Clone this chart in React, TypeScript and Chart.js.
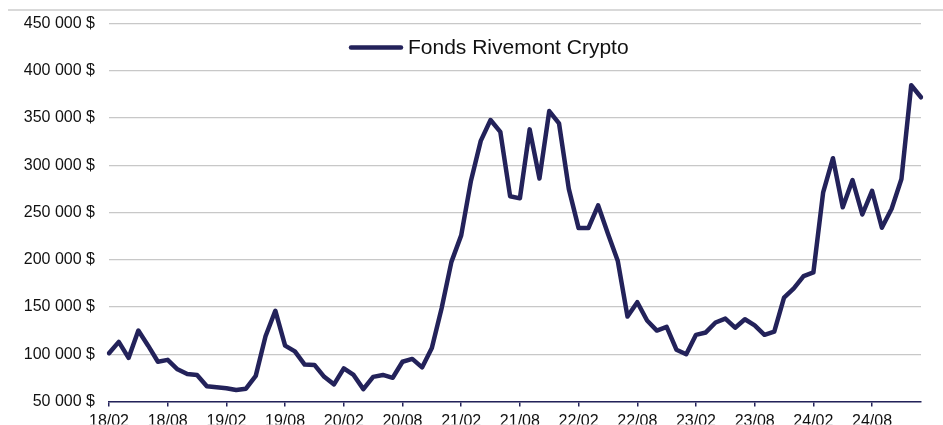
import { useEffect, useRef } from "react";
import { Chart, registerables } from "chart.js";

Chart.register(...registerables);

const months = [
  "18/02", "18/03", "18/04", "18/05", "18/06", "18/07", "18/08", "18/09", "18/10", "18/11", "18/12", "19/01",
  "19/02", "19/03", "19/04", "19/05", "19/06", "19/07", "19/08", "19/09", "19/10", "19/11", "19/12", "20/01",
  "20/02", "20/03", "20/04", "20/05", "20/06", "20/07", "20/08", "20/09", "20/10", "20/11", "20/12", "21/01",
  "21/02", "21/03", "21/04", "21/05", "21/06", "21/07", "21/08", "21/09", "21/10", "21/11", "21/12", "22/01",
  "22/02", "22/03", "22/04", "22/05", "22/06", "22/07", "22/08", "22/09", "22/10", "22/11", "22/12", "23/01",
  "23/02", "23/03", "23/04", "23/05", "23/06", "23/07", "23/08", "23/09", "23/10", "23/11", "23/12", "24/01",
  "24/02", "24/03", "24/04", "24/05", "24/06", "24/07", "24/08", "24/09", "24/10", "24/11", "24/12", "25/01",
];

const fundValues = [
  101000, 113000, 96000, 125000, 109000, 92000, 94000, 84000, 79000, 78000, 66000, 65000,
  64000, 62000, 63500, 77000, 119000, 146000, 109000, 103000, 89000, 88600, 76000, 68000,
  85000, 78000, 63000, 76000, 78000, 75000, 92000, 95000, 86000, 106500, 148600, 197700,
  225800, 283700, 325800, 347900, 335300, 267200, 265000, 338000, 286000, 357400, 344400, 275000,
  233500, 233500, 257500, 227500, 199000, 139800, 155000, 135600, 125000, 129000, 104700, 100000,
  120500, 123000, 133500, 137700, 128000, 137000, 130500, 120500, 124000, 159800, 169700, 182600,
  186500, 271400, 307500, 255600, 284400, 247900, 273000, 233900, 253900, 285500, 384700, 372000,
];

const seriesLabel = "Fonds Rivemont Crypto";
const yMin = 50000;
const yMax = 450000;
const yStep = 50000;
const labelEvery = 6;

const NAVY = "#23225a";
const FONT = '"Liberation Sans", Arial, sans-serif';

const formatDollars = (v: number) =>
  String(Math.round(v)).replace(/\B(?=(\d{3})+(?!\d))/g, " ") + " $";

const floatingLegend = {
  id: "floatingLegend",
  afterDraw(chart: any) {
    const { ctx, chartArea } = chart;
    const ds = chart.data.datasets[0];
    const x0 = chartArea.left + 240;
    const y = chartArea.top + 24;
    ctx.save();
    ctx.strokeStyle = ds.borderColor;
    ctx.lineWidth = 4.5;
    ctx.lineCap = "round";
    ctx.beginPath();
    ctx.moveTo(x0 + 2, y);
    ctx.lineTo(x0 + 52, y);
    ctx.stroke();
    ctx.font = `21px ${FONT}`;
    ctx.fillStyle = "#111111";
    ctx.textBaseline = "middle";
    ctx.textAlign = "left";
    ctx.fillText(ds.label, x0 + 59, y + 1);
    ctx.restore();
  },
};

export default function App() {
  const canvasRef = useRef<HTMLCanvasElement | null>(null);

  useEffect(() => {
    const canvas = canvasRef.current;
    if (!canvas) return;
    const chart = new Chart(canvas, {
      type: "line",
      data: {
        labels: months,
        datasets: [
          {
            label: seriesLabel,
            data: fundValues,
            borderColor: NAVY,
            backgroundColor: NAVY,
            borderWidth: 4.5,
            pointRadius: 0,
            tension: 0,
            borderJoinStyle: "round",
            borderCapStyle: "round",
            fill: false,
          },
        ],
      },
      options: {
        responsive: false,
        animation: false,
        layout: { padding: { top: 22, right: 22, bottom: 0, left: 0 } },
        plugins: {
          legend: { display: false },
          tooltip: { enabled: false },
        },
        scales: {
          x: {
            type: "category",
            offset: false,
            afterFit: (scale: any) => {
              scale.height = 23;
            },
            border: { display: true, color: NAVY, width: 1.5 },
            grid: {
              display: true,
              drawOnChartArea: false,
              drawTicks: true,
              tickLength: 5,
              color: NAVY,
              lineWidth: 1.5,
            },
            ticks: {
              autoSkip: false,
              maxRotation: 0,
              minRotation: 0,
              padding: 6,
              color: "#111111",
              font: { family: FONT, size: 16 },
              callback: function (this: any, value: any, index: number) {
                return index % labelEvery === 0 ? this.getLabelForValue(value) : null;
              },
            },
          },
          y: {
            min: yMin,
            max: yMax,
            afterFit: (scale: any) => {
              scale.width = 109;
            },
            border: { display: false },
            grid: {
              color: "#c8c8c8",
              lineWidth: 1.2,
              drawTicks: false,
            },
            ticks: {
              stepSize: yStep,
              padding: 14,
              color: "#111111",
              font: { family: FONT, size: 16 },
              callback: (v: any) => formatDollars(Number(v)),
            },
          },
        },
      },
      plugins: [floatingLegend],
    });
    return () => chart.destroy();
  }, []);

  return (
    <div style={{ position: "absolute", left: 0, top: 0, width: 943, height: 425, background: "#ffffff" }}>
      <canvas ref={canvasRef} width={943} height={425} style={{ display: "block", width: 943, height: 425 }} />
      <div style={{ position: "absolute", left: 8, top: 9, width: 935, height: 2, background: "#d9d9d9" }} />
    </div>
  );
}
